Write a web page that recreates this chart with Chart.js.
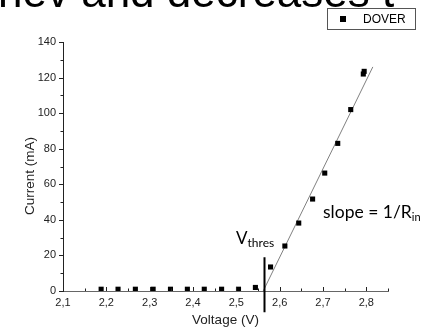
<!DOCTYPE html>
<html>
<head>
<meta charset="utf-8">
<script src="https://cdn.jsdelivr.net/npm/chart.js@4"></script>
<style>
  html, body { margin: 0; padding: 0; background: #fff; }
  #wrap { width: 426px; height: 332px; position: relative; }
</style>
</head>
<body>
<div id="wrap"><canvas id="ivChart"></canvas></div>
<script>
// measured DOVER points
const voltage = [2.188, 2.227, 2.267, 2.308, 2.348, 2.387, 2.426, 2.466, 2.505, 2.544,
                 2.579, 2.612, 2.644, 2.676, 2.704, 2.734, 2.764, 2.793, 2.795];
const current = [1.0, 1.0, 1.0, 1.0, 1.0, 1.0, 1.0, 1.0, 1.0, 2.0,
                 13.5, 25.3, 38.2, 51.7, 66.3, 83, 102, 122, 123.5];

// linear fit line and threshold marker
const fitV = [2.562, 2.815];
const fitI = [0, 126];
const thresV = [2.565, 2.565];
const thresI = [19, -12];

const xTicks = [2.1, 2.2, 2.3, 2.4, 2.5, 2.6, 2.7, 2.8];
const yTicks = [0, 20, 40, 60, 80, 100, 120, 140];

const pts = (xs, ys) => xs.map((x, i) => ({ x: x, y: ys[i] }));

// ticks (x inward, y outward), texts and legend
const decor = {
  id: 'decor',
  afterDraw(chart) {
    const ctx = chart.ctx;
    const xs = chart.scales.x, ys = chart.scales.y;
    const a = chart.chartArea;
    ctx.save();
    ctx.strokeStyle = '#222';
    ctx.lineWidth = 1;
    ctx.beginPath();
    for (let v = 0; v <= 140; v += 10) {
      const y = Math.round(ys.getPixelForValue(v)) + 0.5;
      const len = v % 20 === 0 ? 4 : 2.5;
      ctx.moveTo(a.left - len, y);
      ctx.lineTo(a.left, y);
    }
    for (let k = 0; k <= 15; k++) {
      const v = 2.1 + k * 0.05;
      const x = Math.round(xs.getPixelForValue(v)) + 0.5;
      const len = k % 2 === 0 ? 4 : 2.5;
      ctx.moveTo(x, a.bottom);
      ctx.lineTo(x, a.bottom - len);
    }
    ctx.stroke();

    // axis titles
    ctx.fillStyle = '#222';
    ctx.font = '13.5px "Liberation Sans", Arial, sans-serif';
    ctx.textAlign = 'center';
    ctx.textBaseline = 'middle';
    ctx.fillText('Voltage (V)', (a.left + a.right) / 2, 320);
    ctx.save();
    ctx.translate(30, 176);
    ctx.rotate(-Math.PI / 2);
    ctx.fillText('Current (mA)', 0, 0);
    ctx.restore();

    // slide title (cut off at top)
    ctx.fillStyle = '#000';
    ctx.font = '44px "Liberation Sans", Arial, sans-serif';
    ctx.textAlign = 'left';
    ctx.textBaseline = 'alphabetic';
    ctx.fillText('nev and decreases t', -2, 6.5);

    // legend
    ctx.strokeStyle = '#555';
    ctx.lineWidth = 1;
    ctx.strokeRect(327.5, 8.5, 88, 21);
    ctx.fillStyle = '#000';
    ctx.fillRect(340, 16, 6, 6);
    ctx.font = '12px "Liberation Sans", Arial, sans-serif';
    ctx.textBaseline = 'middle';
    ctx.fillText('DOVER', 363, 19.5);

    // annotations
    ctx.textBaseline = 'alphabetic';
    ctx.font = '17px Lato, sans-serif';
    ctx.fillText('V', 236, 244);
    let w = ctx.measureText('V').width;
    ctx.font = '12px Lato, sans-serif';
    ctx.fillText('thres', 236 + w, 247);

    ctx.font = '17.5px Lato, sans-serif';
    ctx.fillText('slope = 1/R', 323, 218);
    w = ctx.measureText('slope = 1/R').width;
    ctx.font = '11px Lato, sans-serif';
    ctx.fillText('in', 323 + w, 221);
    ctx.restore();
  }
};

new Chart(document.getElementById('ivChart'), {
  type: 'scatter',
  data: {
    datasets: [
      {
        label: 'DOVER',
        data: pts(voltage, current),
        pointStyle: 'rect',
        pointRadius: 3.6,
        backgroundColor: '#000',
        borderColor: '#000',
        borderWidth: 0,
        order: 1
      },
      {
        label: 'fit',
        type: 'line',
        data: pts(fitV, fitI),
        borderColor: '#808080',
        borderWidth: 1,
        pointRadius: 0,
        fill: false,
        order: 2
      },
      {
        label: 'Vthres',
        type: 'line',
        data: pts(thresV, thresI),
        borderColor: '#000',
        borderWidth: 2,
        pointRadius: 0,
        fill: false,
        clip: false,
        order: 0
      }
    ]
  },
  options: {
    responsive: true,
    maintainAspectRatio: false,
    animation: false,
    layout: { padding: { left: 0, right: 38, top: 42, bottom: 0 } },
    plugins: { legend: { display: false }, tooltip: { enabled: false } },
    scales: {
      x: {
        type: 'linear',
        min: 2.1,
        max: 2.85,
        afterFit: s => { s.height = 41; },
        afterBuildTicks: s => { s.ticks = xTicks.map(v => ({ value: v })); },
        ticks: {
          padding: 5,
          color: '#222',
          font: { family: '"Liberation Sans", Arial, sans-serif', size: 11 },
          callback: v => v.toFixed(1).replace('.', ',')
        },
        grid: { display: false, drawTicks: false },
        border: { display: true, color: '#666', width: 1 }
      },
      y: {
        type: 'linear',
        min: 0,
        max: 140,
        afterFit: s => { s.width = 63; },
        afterBuildTicks: s => { s.ticks = yTicks.map(v => ({ value: v })); },
        ticks: {
          padding: 7,
          color: '#222',
          font: { family: '"Liberation Sans", Arial, sans-serif', size: 11 }
        },
        grid: { display: false, drawTicks: false },
        border: { display: true, color: '#222', width: 1 }
      }
    }
  },
  plugins: [decor]
});
</script>
</body>
</html>
